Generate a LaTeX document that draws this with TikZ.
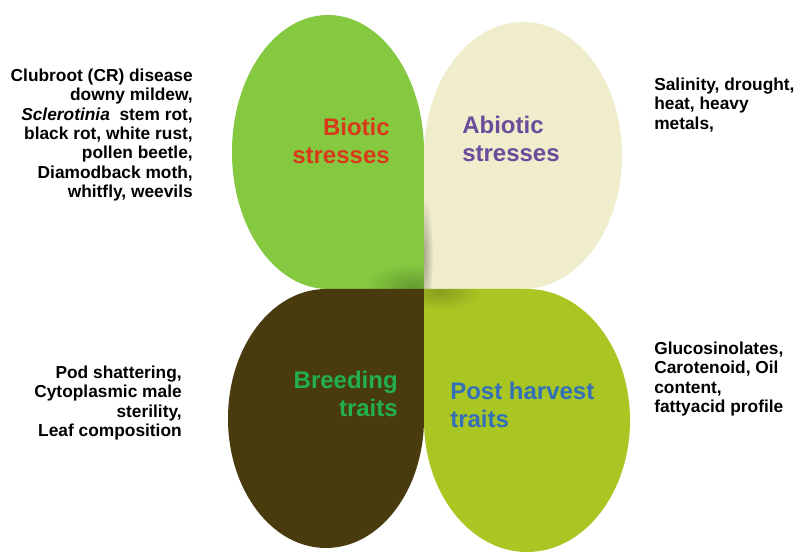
\documentclass[tikz,border=0pt]{standalone}
\usepackage{fontspec}
\setmainfont{Liberation Sans}
\usepackage{tikz}
\usetikzlibrary{positioning, fadings}
\usepackage{xcolor}
\definecolor{leafgreen}{RGB}{132,201,63}
\definecolor{cream}{RGB}{239,237,203}
\definecolor{darkbrown}{RGB}{74,59,15}
\definecolor{limegreen}{RGB}{169,198,35}
\definecolor{bioticred}{RGB}{218,58,28}
\definecolor{abioticpurple}{RGB}{107,76,154}
\definecolor{breedgreen}{RGB}{35,176,75}
\definecolor{harvestblue}{RGB}{51,112,184}

\tikzfading[name=softspot, inner color=transparent!0, outer color=transparent!100]

\tikzset{
  listtext/.style={font=\bfseries\fontsize{13}{14.6}\selectfont, inner sep=0pt},
  petallabel/.style={font=\bfseries\fontsize{18}{20.5}\selectfont, inner sep=0pt},
}

\begin{document}
\begin{tikzpicture}[x=0.75pt, y=0.75pt]
  \fill[white] (0,0) rectangle (802,556);
  \useasboundingbox (0,0) rectangle (802,556);
  \coordinate (c) at (424,267);

  % four petals, square corner at the centre
  \fill[leafgreen] (c) -- (328,267) arc[start angle=270, end angle=0, x radius=96, y radius=137] -- cycle;
  \fill[cream] (c) -- (424,400.5) arc[start angle=180, end angle=-90, x radius=99, y radius=133.5] -- cycle;
  \fill[darkbrown] (c) -- (424,137.5) arc[start angle=0, end angle=-270, x radius=98, y radius=129.5] -- cycle;
  \fill[limegreen] (c) -- (527,267) arc[start angle=90, end angle=-180, x radius=103, y radius=131.5] -- cycle;

  % soft shadow where the petals meet
  \begin{scope}
    \clip (c) -- (328,267) arc[start angle=270, end angle=0, x radius=96, y radius=137] -- cycle;
    \fill[black, opacity=0.22, path fading=softspot] (412,270) ellipse (45 and 22);
  \end{scope}
  \begin{scope}
    \clip (c) -- (424,400.5) arc[start angle=180, end angle=-90, x radius=99, y radius=133.5] -- cycle;
    \fill[black, opacity=0.3, path fading=softspot] (424,300) ellipse (9 and 60);
  \end{scope}
  \begin{scope}
    \clip (c) -- (527,267) arc[start angle=90, end angle=-180, x radius=103, y radius=131.5] -- cycle;
    \fill[black, opacity=0.2, path fading=softspot] (440,264) ellipse (40 and 18);
  \end{scope}

  % petal labels
  \node[petallabel, anchor=east, align=right, text=bioticred] (biotic) at (390,415) {Biotic\\stresses};
  \node[petallabel, anchor=west, align=left, text=abioticpurple] (abiotic) at (462,417) {Abiotic\\stresses};
  \node[petallabel, anchor=east, align=right, text=breedgreen] (breeding) at (398,162) {Breeding\\traits};
  \node[petallabel, anchor=west, align=left, text=harvestblue] (harvest) at (450,151) {Post harvest\\traits};

  % side lists
  \node[listtext, anchor=east, align=right] (bioticlist) at (193,421) {Clubroot (CR) disease\\downy mildew,\\\textit{Sclerotinia}\ \ stem rot,\\black rot, white rust,\\pollen beetle,\\Diamodback moth,\\whitfly, weevils};
  \node[listtext, anchor=west, align=left] (abioticlist) at (654,451) {Salinity, drought,\\heat, heavy\\metals,};
  \node[listtext, anchor=east, align=right] (breedlist) at (182,153) {Pod shattering,\\Cytoplasmic male\\sterility,\\Leaf composition};
  \node[listtext, anchor=west, align=left] (harvestlist) at (654,177) {Glucosinolates,\\Carotenoid, Oil\\content,\\fattyacid profile};
\end{tikzpicture}
\end{document}
